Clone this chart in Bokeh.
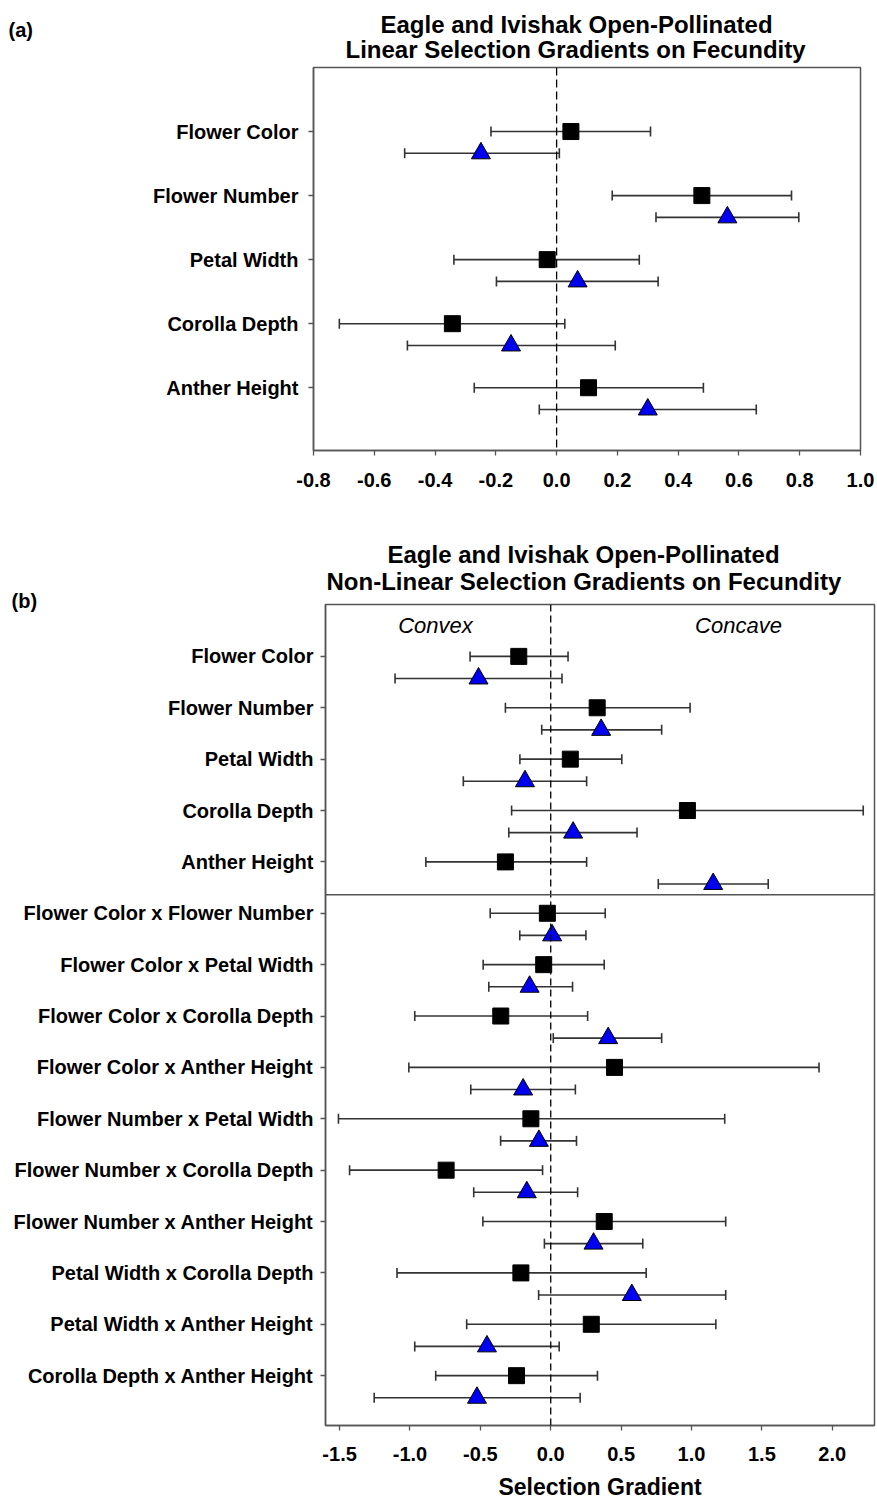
from bokeh.plotting import figure
from bokeh.models import (ColumnDataSource, Whisker, TeeHead, Span, Label, Title,
                          FixedTicker, PrintfTickFormatter, Range1d)
from bokeh.embed import file_html
from bokeh.resources import INLINE

FONT = "Liberation Sans"

# ---------------- Panel (a): linear selection gradients ----------------
traits_a = ["Flower Color", "Flower Number", "Petal Width", "Corolla Depth", "Anther Height"]
eagle_a = [0.047, 0.478, -0.031, -0.343, 0.105]
eagle_a_lo = [-0.216, 0.183, -0.338, -0.715, -0.271]
eagle_a_hi = [0.309, 0.773, 0.272, 0.027, 0.483]
ivishak_a = [-0.249, 0.562, 0.069, -0.150, 0.300]
ivishak_a_lo = [-0.500, 0.327, -0.198, -0.491, -0.057]
ivishak_a_hi = [0.009, 0.797, 0.334, 0.193, 0.657]
xticks_a = [-0.8, -0.6, -0.4, -0.2, 0.0, 0.2, 0.4, 0.6, 0.8, 1.0]

# ---------------- Panel (b): non-linear selection gradients ----------------
traits_b = ["Flower Color", "Flower Number", "Petal Width", "Corolla Depth", "Anther Height",
            "Flower Color x Flower Number", "Flower Color x Petal Width",
            "Flower Color x Corolla Depth", "Flower Color x Anther Height",
            "Flower Number x Petal Width", "Flower Number x Corolla Depth",
            "Flower Number x Anther Height", "Petal Width x Corolla Depth",
            "Petal Width x Anther Height", "Corolla Depth x Anther Height"]
eagle_b = [-0.227, 0.330, 0.139, 0.971, -0.322,
           -0.024, -0.050, -0.355, 0.453, -0.141, -0.743, 0.380, -0.212, 0.288, -0.243]
eagle_b_lo = [-0.573, -0.322, -0.219, -0.278, -0.887,
              -0.430, -0.480, -0.966, -1.008, -1.508, -1.429, -0.482, -1.092, -0.597, -0.817]
eagle_b_hi = [0.123, 0.990, 0.505, 2.220, 0.255,
              0.387, 0.380, 0.262, 1.906, 1.236, -0.058, 1.243, 0.678, 1.173, 0.332]
ivishak_b = [-0.513, 0.358, -0.183, 0.159, 1.154,
             0.010, -0.150, 0.408, -0.196, -0.084, -0.170, 0.304, 0.576, -0.453, -0.524]
ivishak_b_lo = [-1.106, -0.064, -0.621, -0.298, 0.764,
                -0.220, -0.440, 0.018, -0.568, -0.356, -0.547, -0.045, -0.086, -0.966, -1.254]
ivishak_b_hi = [0.080, 0.788, 0.255, 0.613, 1.545,
                0.250, 0.155, 0.788, 0.175, 0.183, 0.191, 0.654, 1.243, 0.060, 0.209]
xticks_b = [-1.5, -1.0, -0.5, 0.0, 0.5, 1.0, 1.5, 2.0]

LINE = "#333333"
FRAME = "#555555"
BLUE = "#0000F0"


def make_panel(traits, sq, sq_lo, sq_hi, tri, tri_lo, tri_hi, xticks, xr, yr, tri_off,
               width, height, borders, dash):
    n = len(traits)
    ypos = [n - i for i in range(n)]
    p = figure(width=width, height=height, output_backend="svg", toolbar_location=None,
               title=None, x_range=Range1d(*xr), y_range=Range1d(*yr),
               min_border_left=borders[0], min_border_right=borders[1],
               min_border_top=borders[2], min_border_bottom=borders[3],
               background_fill_color="white", border_fill_color="white")
    p.outline_line_color = FRAME
    p.outline_line_width = 1.5
    p.grid.visible = False

    src_sq = ColumnDataSource(dict(y=ypos, x=sq, lo=sq_lo, hi=sq_hi))
    src_tri = ColumnDataSource(dict(y=[v - tri_off for v in ypos], x=tri, lo=tri_lo, hi=tri_hi))

    p.add_layout(Span(location=0, dimension="height", line_color="black",
                      line_width=1.3, line_dash=dash))

    for src in (src_sq, src_tri):
        w = Whisker(source=src, base="y", lower="lo", upper="hi", dimension="width",
                    line_color=LINE, line_width=1.6,
                    upper_head=TeeHead(size=10, line_color=LINE, line_width=1.6),
                    lower_head=TeeHead(size=10, line_color=LINE, line_width=1.6))
        p.add_layout(w)

    p.scatter("x", "y", source=src_sq, marker="square", size=16,
              fill_color="black", line_color="black")
    p.scatter("x", "y", source=src_tri, marker="triangle", size=19,
              fill_color=BLUE, line_color="black", line_width=1)

    for ax in (p.xaxis[0], p.yaxis[0]):
        ax.axis_line_color = FRAME
        ax.axis_line_width = 1.5
        ax.major_tick_line_color = FRAME
        ax.major_tick_line_width = 1.3
        ax.major_tick_in = 0
        ax.major_tick_out = 5
        ax.minor_tick_line_color = None
        ax.major_label_text_font = FONT
        ax.major_label_text_font_style = "bold"
        ax.major_label_text_font_size = "20px"
        ax.major_label_text_color = "black"
    p.xaxis.ticker = FixedTicker(ticks=xticks)
    p.xaxis.formatter = PrintfTickFormatter(format="%.1f")
    p.yaxis.ticker = FixedTicker(ticks=ypos)
    p.yaxis.major_label_overrides = {y: t for y, t in zip(ypos, traits)}
    return p


def title(text, offset, standoff, size="24px", valign="bottom"):
    return Title(text=text, align="left", offset=offset, standoff=standoff,
                 vertical_align=valign,
                 text_font=FONT, text_font_style="bold", text_font_size=size,
                 text_color="black")


# ---------- figure (a) ----------
pa = make_panel(traits_a, eagle_a, eagle_a_lo, eagle_a_hi,
                ivishak_a, ivishak_a_lo, ivishak_a_hi, xticks_a,
                (-0.8, 1.0), (0.02, 6.0), 0.34,
                877, 504, (313, 17, 67, 54), "8 4")
pa.yaxis.major_label_standoff = 10
pa.xaxis.major_label_standoff = 17
# title slots stacked outward from the frame
pa.add_layout(title("Linear Selection Gradients on Fecundity", 32, 6, valign="top"), "above")
pa.add_layout(title("(a)", -305, -19.6, size="20px", valign="top"), "above")
pa.add_layout(title("Eagle and Ivishak Open-Pollinated", 67, -19.4), "above")

# ---------- figure (b) ----------
pb = make_panel(traits_b, eagle_b, eagle_b_lo, eagle_b_hi,
                ivishak_b, ivishak_b_lo, ivishak_b_hi, xticks_b,
                (-1.6, 2.3), (0.03, 16.01), 0.43,
                877, 998, (325, 3, 100, 77), "7 4")
pb.yaxis.major_label_standoff = 7
pb.xaxis.major_label_standoff = 16
pb.xaxis.axis_label = "Selection Gradient"
pb.xaxis.axis_label_text_font = FONT
pb.xaxis.axis_label_text_font_style = "bold"
pb.xaxis.axis_label_text_font_size = "23px"
pb.xaxis.axis_label_text_color = "black"
pb.xaxis.axis_label_standoff = 10
pb.add_layout(Span(location=10.36, dimension="width", line_color=FRAME, line_width=1.5))
pb.add_layout(Label(x=-0.819, y=15.6, text="Convex", text_font=FONT, text_font_style="italic",
                    text_font_size="22px", text_align="center", text_baseline="middle",
                    text_color="black"))
pb.add_layout(Label(x=1.334, y=15.6, text="Concave", text_font=FONT, text_font_style="italic",
                    text_font_size="22px", text_align="center", text_baseline="middle",
                    text_color="black"))
pb.add_layout(title("(b)", -314, -14.8, size="20px"), "above")
pb.add_layout(title("Non-Linear Selection Gradients on Fecundity", 1, 1.4), "above")
pb.add_layout(title("Eagle and Ivishak Open-Pollinated", 62, -5.4), "above")

open("out.html", "w").write(file_html([pa, pb], INLINE))
